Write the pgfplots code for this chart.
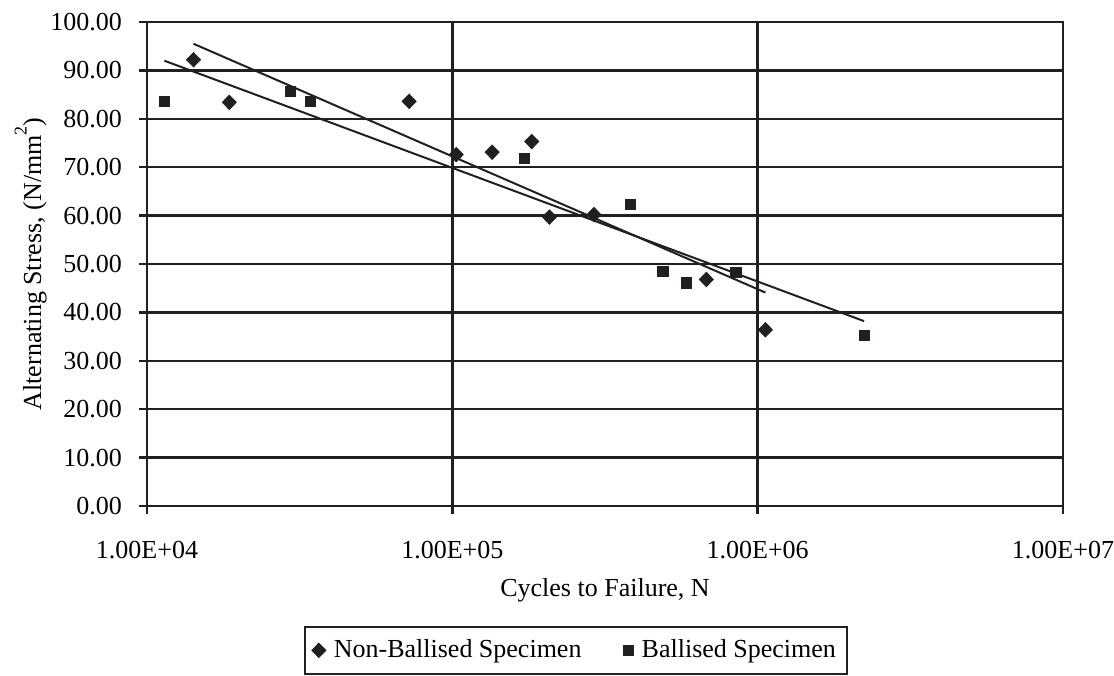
\documentclass[border=0pt]{standalone}
\usepackage{pgfplots}
\pgfplotsset{compat=1.18}
\usepackage{fontspec}
\setmainfont{Liberation Serif}
\definecolor{ink}{HTML}{231F20}
\begin{document}
\begin{tikzpicture}[font=\fontsize{13}{15.6}\selectfont]
\begin{axis}[
  at={(0,0)}, anchor=south west,
  scale only axis, width=458pt, height=242pt,
  xmode=log, log basis x=10,
  xmin=1e4, xmax=1e7, ymin=0, ymax=100,
  xtick={1e4,1e5,1e6,1e7},
  xticklabels={1.00E+04,1.00E+05,1.00E+06,1.00E+07},
  minor xtick={},
  ytick={0,10,20,30,40,50,60,70,80,90,100},
  yticklabels={0.00,10.00,20.00,30.00,40.00,50.00,60.00,70.00,80.00,90.00,100.00},
  grid=major,
  major grid style={line width=1.2pt, ink},
  axis line style={line width=1.2pt, ink},
  tick style={line width=1.2pt, ink},
  tick align=outside, major tick length=4pt,
  xtick pos=bottom, ytick pos=left,
  xticklabel style={anchor=base, yshift=-22pt},
  yticklabel style={xshift=-5pt},
  xlabel={Cycles to Failure, N},
  ylabel={Alternating Stress, (N/mm\raisebox{0.55em}{\fontsize{9}{10}\selectfont 2})},
  xlabel style={at={(axis description cs:0.5,-0.186)}, anchor=base},
  ylabel style={at={(axis description cs:-0.1157,0.5)}, anchor=base},
  legend columns=2,
  legend style={at={(axis description cs:0.1714,-0.248)}, anchor=north west,
    draw=ink, line width=0.8pt, inner xsep=3.5pt, inner ysep=4.5pt,
    /tikz/every odd column/.append style={column sep=2pt},
    /tikz/every even column/.append style={column sep=19pt}},
  legend image code/.code={\draw[#1, line width=0.4pt] plot coordinates {(0pt,0pt)};},
]
\addplot[only marks, mark=diamond*, mark size=3.6pt, mark options={xscale=1.3, fill=ink, draw=ink}, ink] table {
x y
1.42e4 92.2
1.86e4 83.4
7.22e4 83.6
1.03e5 72.6
1.35e5 73.1
1.82e5 75.3
2.08e5 59.7
2.91e5 60.2
6.79e5 46.8
1.06e6 36.4
};
\addlegendentry{Non-Ballised Specimen}
\addplot[only marks, mark=square*, mark size=2.55pt, mark options={fill=ink, draw=ink}, ink] table {
x y
1.14e4 83.6
2.94e4 85.6
3.43e4 83.6
1.72e5 71.8
3.82e5 62.3
4.89e5 48.5
5.84e5 46.1
8.49e5 48.3
2.23e6 35.3
};
\addlegendentry{Ballised Specimen}
\addplot[forget plot, line width=1pt, ink] coordinates {(1.42e4,95.5) (1.06e6,44.1)};
\addplot[forget plot, line width=1pt, ink] coordinates {(1.14e4,92.0) (2.23e6,38.2)};
\end{axis}
\pgfresetboundingbox
\path[use as bounding box] (-73.5pt,-84.5pt) rectangle (483.5pt,253pt);
\end{tikzpicture}
\end{document}
